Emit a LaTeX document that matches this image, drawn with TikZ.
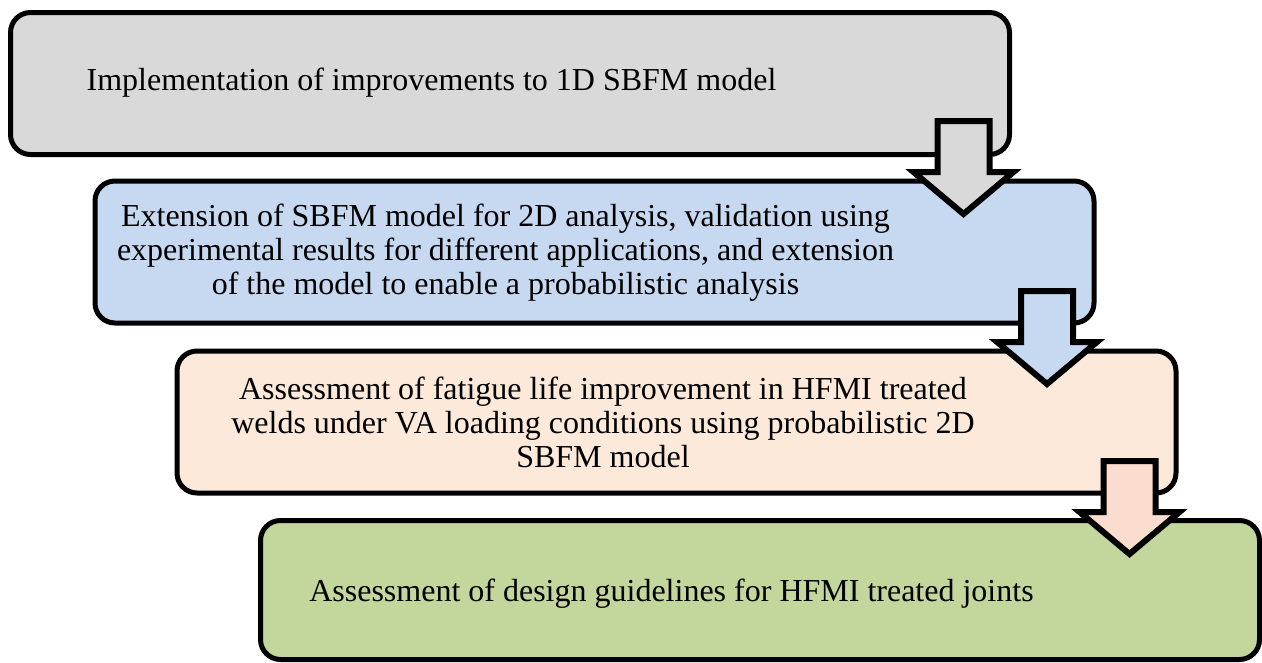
\documentclass[tikz,border=0pt]{standalone}
\usepackage{fontspec}
\setmainfont{Liberation Serif}
\definecolor{cgray}{HTML}{D9D9D9}
\definecolor{cblue}{HTML}{C6D9F1}
\definecolor{cpeach}{HTML}{FDE9D9}
\definecolor{csalmon}{HTML}{FBDDD0}
\definecolor{cgreen}{HTML}{C3D69B}
\begin{document}
\begin{tikzpicture}[x=1pt,y=-1pt,
  stagebox/.style={draw=black, line width=5pt, rounded corners=20pt, minimum width=999pt, minimum height=142pt, inner sep=0pt},
  stagetext/.style={align=center, inner sep=0pt, font=\fontsize{32pt}{34pt}\selectfont},
  blockarr/.style={draw=black, line width=6pt, miter limit=10}]
\useasboundingbox (0,0) rectangle (1262,662);
\newcommand{\downarrowat}[3]{%
  \draw[blockarr, fill=#3, shift={(#1,#2)}] (-26,0) -- (26,0) -- (26,51) -- (50,51) -- (0,93) -- (-50,51) -- (-26,51) -- cycle;}
% boxes
\node[stagebox, fill=cgray] (b1) at (510,83.5) {};
\node[stagetext] (t1) at (431.5,83) {Implementation of improvements to 1D SBFM model};
\node[stagebox, fill=cblue] (b2) at (594.5,252) {};
\node[stagetext] (t2) at (505.5,253) {Extension of SBFM model for 2D analysis, validation using\\experimental results for different applications, and extension\\of the model to enable a probabilistic analysis};
\downarrowat{963.5}{121}{cgray}
\node[stagebox, fill=cpeach] (b3) at (676.5,422) {};
\node[stagetext] (t3) at (603,422) {Assessment of fatigue life improvement in HFMI treated\\welds under VA loading conditions using probabilistic 2D\\SBFM model};
\downarrowat{1047}{291}{cblue}
\node[stagebox, fill=cgreen, minimum height=139pt] (b4) at (760,590) {};
\node[stagetext] (t4) at (671.5,594) {Assessment of design guidelines for HFMI treated joints};
\downarrowat{1129.5}{461}{csalmon}
\end{tikzpicture}
\end{document}
